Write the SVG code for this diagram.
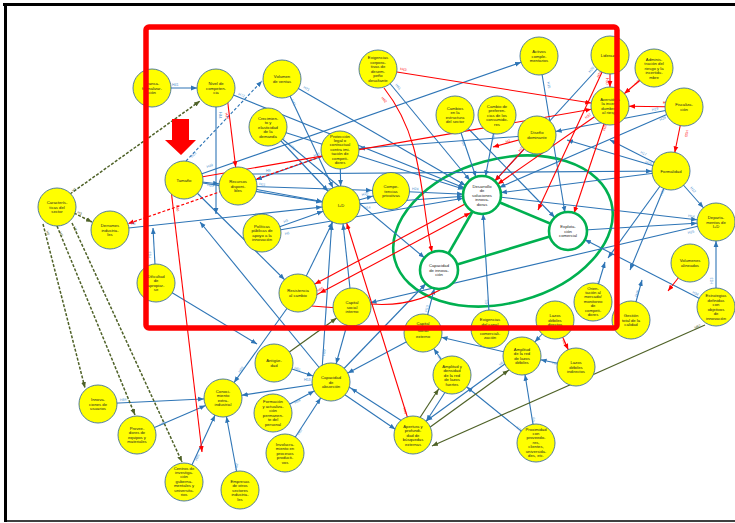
<svg xmlns="http://www.w3.org/2000/svg" width="735" height="523" viewBox="0 0 735 523">
<defs>
<style>
.b{stroke:#2E75B6;stroke-width:1.1;fill:none}
.bd{stroke:#2E75B6;stroke-width:1.1;fill:none;stroke-dasharray:3 2}
.r{stroke:#FF0000;stroke-width:1.1;fill:none}
.rd{stroke:#FF0000;stroke-width:1.2;fill:none;stroke-dasharray:3 2}
.o{stroke:#4F6228;stroke-width:1.2;fill:none}
.od{stroke:#4F6228;stroke-width:1.5;fill:none;stroke-dasharray:3 1.6}
.g{stroke:#00B050;stroke-width:2.6;fill:none}
.n circle{fill:#FFFF00;stroke:#41719C;stroke-width:0.9}
.gn circle{fill:#FFFFFF;stroke:#00B050;stroke-width:2.6}
.n text,.gn text{font-family:"Liberation Sans",Arial,sans-serif;font-size:4.2px;fill:#222;text-anchor:middle}
.lb,.lr,.lo{font-family:"Liberation Sans",Arial,sans-serif;font-size:3.6px}
.lb{fill:#4A8FD0}
.lr{fill:#FF0000}
.lo{fill:#4F6228}
</style>
<marker id="mb" viewBox="0 0 26 6" refX="25" refY="3" markerWidth="26" markerHeight="6" markerUnits="userSpaceOnUse" orient="auto"><path d="M0,0.6 L6,3 L0,5.4z" fill="#2E75B6"/></marker>
<marker id="mr" viewBox="0 0 26 6" refX="25" refY="3" markerWidth="26" markerHeight="6" markerUnits="userSpaceOnUse" orient="auto-start-reverse"><path d="M0,0.6 L6,3 L0,5.4z" fill="#FF0000"/></marker>
<marker id="mo" viewBox="0 0 26 6" refX="25" refY="3" markerWidth="26" markerHeight="6" markerUnits="userSpaceOnUse" orient="auto"><path d="M0,0.6 L6,3 L0,5.4z" fill="#4F6228"/></marker>
<marker id="mbp" viewBox="0 0 6 6" refX="6" refY="3" markerWidth="6" markerHeight="6" markerUnits="userSpaceOnUse" orient="auto"><path d="M0,0.6 L6,3 L0,5.4z" fill="#2E75B6"/></marker>
<marker id="mrp" viewBox="0 0 6 6" refX="6" refY="3" markerWidth="6" markerHeight="6" markerUnits="userSpaceOnUse" orient="auto"><path d="M0,0.6 L6,3 L0,5.4z" fill="#FF0000"/></marker>
<marker id="mop" viewBox="0 0 6 6" refX="6" refY="3" markerWidth="6" markerHeight="6" markerUnits="userSpaceOnUse" orient="auto"><path d="M0,0.6 L6,3 L0,5.4z" fill="#4F6228"/></marker>
</defs>
<rect width="735" height="523" fill="#FFFFFF"/>

<g id="connectors">
<ellipse class="g" cx="503" cy="231" rx="112" ry="72" transform="rotate(-15 503 231)"/>
<!-- blue -->
<line class="b" x1="152" y1="88" x2="216" y2="88" marker-end="url(#mb)"/>
<line class="b" x1="216" y1="88" x2="216" y2="214" marker-end="url(#mbp)"/>
<line class="b" x1="282" y1="79" x2="341" y2="205" marker-end="url(#mb)"/>
<line class="b" x1="282" y1="79" x2="482" y2="195" marker-end="url(#mb)"/>
<line class="b" x1="216" y1="88" x2="482" y2="195" marker-end="url(#mb)"/>
<line class="b" x1="268" y1="127" x2="341" y2="205" marker-end="url(#mb)"/>
<line class="b" x1="268" y1="127" x2="439" y2="270" marker-end="url(#mb)"/>
<line class="b" x1="268" y1="127" x2="482" y2="195" marker-end="url(#mb)"/>
<line class="b" x1="184" y1="180" x2="539" y2="56" marker-end="url(#mb)"/>
<line class="b" x1="340" y1="150" x2="238" y2="186" marker-end="url(#mb)"/>
<line class="b" x1="184" y1="180" x2="238" y2="186" marker-end="url(#mb)"/>
<line class="b" x1="184" y1="180" x2="341" y2="205" marker-end="url(#mb)"/>
<line class="b" x1="238" y1="186" x2="341" y2="205" marker-end="url(#mb)"/>
<line class="b" x1="238" y1="186" x2="391" y2="191" marker-end="url(#mb)"/>
<line class="b" x1="252" y1="174" x2="671" y2="171" marker-end="url(#mb)"/>
<line class="b" x1="110" y1="230" x2="341" y2="205" marker-end="url(#mb)"/>
<line class="b" x1="156" y1="283" x2="153" y2="228" marker-end="url(#mbp)"/>
<line class="b" x1="156" y1="283" x2="257" y2="344" marker-end="url(#mbp)"/>
<line class="b" x1="184" y1="180" x2="298" y2="293" marker-end="url(#mb)"/>
<line class="b" x1="298" y1="293" x2="341" y2="205" marker-end="url(#mb)"/>
<line class="b" x1="352" y1="307" x2="341" y2="205" marker-end="url(#mb)"/>
<line class="b" x1="262" y1="233" x2="341" y2="205" marker-end="url(#mb)"/>
<line class="b" x1="262" y1="233" x2="482" y2="195" marker-end="url(#mb)"/>
<line class="b" x1="341" y1="205" x2="482" y2="195" marker-end="url(#mb)"/>
<line class="b" x1="341" y1="205" x2="391" y2="191" marker-end="url(#mb)"/>
<line class="b" x1="391" y1="191" x2="482" y2="195" marker-end="url(#mb)"/>
<line class="b" x1="340" y1="150" x2="341" y2="205" marker-end="url(#mb)"/>
<line class="b" x1="378" y1="69" x2="482" y2="195" marker-end="url(#mb)"/>
<line class="b" x1="455" y1="115" x2="482" y2="195" marker-end="url(#mb)"/>
<line class="b" x1="497" y1="115" x2="482" y2="195" marker-end="url(#mb)"/>
<line class="b" x1="610" y1="55" x2="482" y2="195" marker-end="url(#mb)"/>
<line class="b" x1="684" y1="107" x2="537" y2="135" marker-end="url(#mb)"/>
<line class="b" x1="684" y1="107" x2="482" y2="195" marker-end="url(#mb)"/>
<line class="b" x1="671" y1="171" x2="482" y2="195" marker-end="url(#mb)"/>
<line class="b" x1="482" y1="195" x2="716" y2="222" marker-end="url(#mb)"/>
<line class="b" x1="568" y1="231" x2="716" y2="222" marker-end="url(#mb)"/>
<line class="b" x1="716" y1="222" x2="352" y2="307" marker-end="url(#mb)"/>
<line class="b" x1="671" y1="171" x2="716" y2="222" marker-end="url(#mb)"/>
<line class="b" x1="716" y1="307" x2="716" y2="222" marker-end="url(#mb)"/>
<line class="b" x1="716" y1="307" x2="568" y2="231" marker-end="url(#mb)"/>
<line class="b" x1="671" y1="171" x2="608" y2="258" marker-end="url(#mbp)"/>
<line class="b" x1="671" y1="171" x2="630" y2="270" marker-end="url(#mbp)"/>
<line class="b" x1="593" y1="302" x2="605" y2="262" marker-end="url(#mbp)"/>
<line class="b" x1="631" y1="320" x2="642" y2="280" marker-end="url(#mbp)"/>
<line class="b" x1="539" y1="56" x2="568" y2="231" marker-end="url(#mb)"/>
<line class="b" x1="455" y1="115" x2="568" y2="231" marker-end="url(#mb)"/>
<line class="b" x1="671" y1="171" x2="610" y2="140" marker-end="url(#mbp)"/>
<line class="b" x1="671" y1="171" x2="567" y2="140" marker-end="url(#mbp)"/>
<line class="b" x1="537" y1="135" x2="340" y2="150" marker-end="url(#mb)"/>
<line class="b" x1="490" y1="329" x2="482" y2="195" marker-end="url(#mb)"/>
<line class="b" x1="423" y1="333" x2="439" y2="270" marker-end="url(#mb)"/>
<line class="b" x1="331" y1="382" x2="439" y2="270" marker-end="url(#mb)"/>
<line class="b" x1="331" y1="382" x2="200" y2="222" marker-end="url(#mbp)"/>
<line class="b" x1="322" y1="370" x2="333" y2="205" marker-end="url(#mb)"/>
<line class="b" x1="298" y1="293" x2="223" y2="398" marker-end="url(#mb)"/>
<line class="b" x1="331" y1="382" x2="223" y2="398" marker-end="url(#mb)"/>
<line class="b" x1="274" y1="363" x2="331" y2="382" marker-end="url(#mb)"/>
<line class="b" x1="273" y1="413" x2="331" y2="382" marker-end="url(#mb)"/>
<line class="b" x1="285" y1="453" x2="331" y2="382" marker-end="url(#mb)"/>
<line class="b" x1="352" y1="307" x2="331" y2="382" marker-end="url(#mb)"/>
<line class="b" x1="423" y1="333" x2="331" y2="382" marker-end="url(#mb)"/>
<line class="b" x1="332" y1="386" x2="411" y2="440" marker-end="url(#mb)"/>
<line class="b" x1="416" y1="430" x2="335" y2="378" marker-end="url(#mb)"/>
<line class="b" x1="98" y1="404" x2="223" y2="398" marker-end="url(#mb)"/>
<line class="b" x1="137" y1="435" x2="223" y2="398" marker-end="url(#mb)"/>
<line class="b" x1="184" y1="482" x2="223" y2="398" marker-end="url(#mb)"/>
<line class="b" x1="240" y1="490" x2="223" y2="398" marker-end="url(#mb)"/>
<line class="b" x1="520" y1="353" x2="411" y2="432" marker-end="url(#mb)"/>
<line class="b" x1="455" y1="377" x2="416" y2="437" marker-end="url(#mb)"/>
<line class="b" x1="536" y1="443" x2="522" y2="356" marker-end="url(#mb)"/>
<line class="b" x1="536" y1="443" x2="452" y2="375" marker-end="url(#mb)"/>
<line class="b" x1="576" y1="367" x2="522" y2="356" marker-end="url(#mb)"/>
<line class="b" x1="555" y1="320" x2="522" y2="356" marker-end="url(#mb)"/>
<line class="b" x1="452" y1="375" x2="423" y2="333" marker-end="url(#mb)"/>
<line class="b" x1="522" y1="356" x2="423" y2="333" marker-end="url(#mb)"/>
<line class="bd" x1="186" y1="161" x2="262" y2="81" marker-end="url(#mbp)"/>
<!-- red -->
<line class="r" x1="184" y1="180" x2="610" y2="106" marker-end="url(#mr)"/>
<line class="r" x1="226" y1="88" x2="238" y2="186" marker-end="url(#mr)"/>
<line class="r" x1="378" y1="69" x2="610" y2="106" marker-end="url(#mr)"/>
<path class="r" d="M384,88 C425,140 420,200 432,252" marker-end="url(#mrp)"/>
<line class="r" x1="537" y1="135" x2="482" y2="195" marker-end="url(#mr)"/>
<line class="r" x1="537" y1="135" x2="493" y2="147" marker-end="url(#mrp)"/>
<line class="r" x1="610" y1="55" x2="610" y2="106" marker-end="url(#mr)"/>
<line class="r" x1="654" y1="68" x2="610" y2="106" marker-end="url(#mr)"/>
<line class="r" x1="684" y1="107" x2="610" y2="106" marker-end="url(#mr)"/>
<line class="r" x1="684" y1="107" x2="671" y2="171" marker-end="url(#mr)"/>
<line class="r" x1="610" y1="106" x2="568" y2="231" marker-end="url(#mr)"/>
<line class="r" x1="610" y1="106" x2="482" y2="195" marker-end="url(#mr)"/>
<line class="r" x1="610" y1="55" x2="538" y2="210" marker-end="url(#mrp)"/>
<line class="r" x1="482" y1="195" x2="298" y2="293" marker-end="url(#mr)"/>
<line class="r" x1="303" y1="302" x2="487" y2="204" marker-start="url(#mr)" marker-end="url(#mr)"/>
<line class="r" x1="352" y1="309" x2="298" y2="305" marker-end="url(#mrp)"/>
<path class="r" d="M370,304 Q420,308 456,279" marker-end="url(#mrp)"/>
<line class="r" x1="413" y1="435" x2="341" y2="205" marker-end="url(#mr)"/>
<line class="r" x1="170" y1="181" x2="202" y2="452" marker-end="url(#mrp)"/>
<line class="r" x1="555" y1="320" x2="576" y2="367" marker-end="url(#mr)"/>
<line class="r" x1="690" y1="263" x2="668" y2="291" marker-end="url(#mrp)"/>
<line class="rd" x1="340" y1="150" x2="110" y2="230" marker-end="url(#mr)"/>
<!-- olive -->
<line class="od" x1="70" y1="194" x2="200" y2="101" marker-end="url(#mop)"/>
<line class="od" x1="74" y1="213" x2="92" y2="222" marker-end="url(#mop)"/>
<line class="od" x1="43" y1="224" x2="85" y2="388" marker-end="url(#mop)"/>
<line class="od" x1="57" y1="226" x2="135" y2="415" marker-end="url(#mop)"/>
<line class="od" x1="72" y1="223" x2="182" y2="462" marker-end="url(#mop)"/>
<line class="o" x1="274" y1="363" x2="352" y2="307" marker-end="url(#mo)"/>
<line class="o" x1="705" y1="325" x2="432" y2="446" marker-end="url(#mop)"/>
<line class="o" x1="410" y1="433" x2="449" y2="373" marker-end="url(#mo)"/>
<line class="o" x1="415" y1="438" x2="524" y2="359" marker-end="url(#mo)"/>
<!-- green -->
<line class="g" x1="482" y1="195" x2="568" y2="231"/>
<line class="g" x1="439" y1="270" x2="482" y2="195"/>
<line class="g" x1="439" y1="270" x2="568" y2="231"/>
<!-- labels -->
<text class="lb" x="172" y="86">H41</text>
<text class="lb" x="219" y="112" transform="rotate(90 219 112)">H44</text>
<text class="lb" x="291" y="100" transform="rotate(65 291 100)">H45</text>
<text class="lb" x="303" y="88" transform="rotate(30 303 88)">H71</text>
<text class="lb" x="238" y="95" transform="rotate(22 238 95)">H72</text>
<text class="lb" x="280" y="137" transform="rotate(47 280 137)">H1</text>
<text class="lb" x="289" y="146" transform="rotate(40 289 146)">H21</text>
<text class="lb" x="207" y="168" transform="rotate(-19 207 168)">H49</text>
<text class="lb" x="314" y="157" transform="rotate(-19 314 157)">H55</text>
<text class="lb" x="207" y="186" transform="rotate(9 207 186)">H50</text>
<text class="lb" x="259" y="185" transform="rotate(10 259 185)">H11</text>
<text class="lb" x="259" y="193" transform="rotate(2 259 193)">H10</text>
<text class="lb" x="266" y="172">H9</text>
<text class="lb" x="131" y="225" transform="rotate(-6 131 225)">H8</text>
<text class="lb" x="151" y="258" transform="rotate(-90 151 258)">H13</text>
<text class="lb" x="284" y="223" transform="rotate(-20 284 223)">H5</text>
<text class="lb" x="285" y="235" transform="rotate(-10 285 235)">H6</text>
<text class="lb" x="364" y="209" transform="rotate(-4 364 209)">H14</text>
<text class="lb" x="362" y="196" transform="rotate(-15 362 196)">H20</text>
<text class="lb" x="412" y="190" transform="rotate(2 412 190)">H24</text>
<text class="lb" x="395" y="85" transform="rotate(50 395 85)">H61</text>
<text class="lb" x="461" y="140" transform="rotate(71 461 140)">H58</text>
<text class="lb" x="494" y="140" transform="rotate(-79 494 140)">H57</text>
<text class="lb" x="590" y="73" transform="rotate(-48 590 73)">H20</text>
<text class="lb" x="652" y="111" transform="rotate(-11 652 111)">H19</text>
<text class="lb" x="660" y="121" transform="rotate(-23 660 121)">H29</text>
<text class="lb" x="640" y="153" transform="rotate(27 640 153)">H17</text>
<text class="lb" x="645" y="163" transform="rotate(17 645 163)">H16</text>
<text class="lb" x="690" y="188" transform="rotate(49 690 188)">H12</text>
<text class="lb" x="713" y="284" transform="rotate(-90 713 284)">H13</text>
<text class="lb" x="692" y="293" transform="rotate(27 692 293)">H34</text>
<text class="lb" x="688" y="217" transform="rotate(6 688 217)">H14</text>
<text class="lb" x="688" y="234" transform="rotate(-13 688 234)">H25</text>
<text class="lb" x="598" y="288" transform="rotate(-73 598 288)">H23</text>
<text class="lb" x="637" y="297" transform="rotate(-70 637 297)">H28</text>
<text class="lb" x="662" y="196" transform="rotate(-68 662 196)">H32</text>
<text class="lb" x="547" y="82" transform="rotate(80 547 82)">H15</text>
<text class="lb" x="488" y="306" transform="rotate(-90 488 306)">H55</text>
<text class="lb" x="427" y="312" transform="rotate(-75 427 312)">H13</text>
<text class="lb" x="120" y="401" transform="rotate(-3 120 401)">H84</text>
<text class="lb" x="160" y="426" transform="rotate(-23 160 426)">H85</text>
<text class="lb" x="197" y="461" transform="rotate(-65 197 461)">H86</text>
<text class="lb" x="237" y="470" transform="rotate(-80 237 470)">H82</text>
<text class="lb" x="240" y="373" transform="rotate(-55 240 373)">H83</text>
<text class="lb" x="304" y="381">H53</text>
<text class="lb" x="294" y="369" transform="rotate(18 294 369)">H51</text>
<text class="lb" x="295" y="404" transform="rotate(-28 295 404)">H58</text>
<text class="lb" x="299" y="435" transform="rotate(-57 299 435)">H57</text>
<text class="lb" x="325" y="356" transform="rotate(-85 325 356)">H59</text>
<text class="lb" x="500" y="366" transform="rotate(-36 500 366)">H67</text>
<text class="lb" x="447" y="394" transform="rotate(-57 447 394)">H68</text>
<text class="lb" x="534" y="424" transform="rotate(-81 534 424)">H70</text>
<text class="lb" x="516" y="428" transform="rotate(39 516 428)">H71</text>
<text class="lb" x="552" y="364" transform="rotate(11 552 364)">H69</text>
<text class="lb" x="437" y="356" transform="rotate(55 437 356)">H64</text>
<text class="lb" x="192" y="158" transform="rotate(-46 192 158)">H22</text>
<text class="lr" x="225" y="113" transform="rotate(77 225 113)">H42</text>
<text class="lr" x="400" y="70" transform="rotate(9 400 70)">H43</text>
<text class="lr" x="381" y="98" transform="rotate(50 381 98)">H62</text>
<text class="lr" x="520" y="152" transform="rotate(-48 520 152)">H27</text>
<text class="lr" x="506" y="143" transform="rotate(-16 506 143)">H2</text>
<text class="lr" x="606" y="78" transform="rotate(90 606 78)">H30</text>
<text class="lr" x="636" y="85" transform="rotate(-41 636 85)">H38</text>
<text class="lr" x="663" y="104">H18</text>
<text class="lr" x="686" y="130" transform="rotate(100 686 130)">H33</text>
<text class="lr" x="605" y="131" transform="rotate(-71 605 131)">H26</text>
<text class="lr" x="586" y="119" transform="rotate(-35 586 119)">H37</text>
<text class="lr" x="599" y="78" transform="rotate(-65 599 78)">H31</text>
<text class="lr" x="403" y="408" transform="rotate(73 403 408)">H40</text>
<text class="lr" x="176" y="205" transform="rotate(83 176 205)">H36</text>
<text class="lr" x="562" y="340" transform="rotate(66 562 340)">H66</text>
<text class="lr" x="680" y="277" transform="rotate(-52 680 277)">H35</text>
<text class="lr" x="318" y="292" transform="rotate(-28 318 292)">H65</text>
<text class="lo" x="73" y="192" transform="rotate(-37 73 192)">H1</text>
<text class="lo" x="77" y="213" transform="rotate(28 77 213)">H3</text>
<text class="lo" x="46" y="231" transform="rotate(75 46 231)">H6</text>
<text class="lo" x="59" y="232" transform="rotate(70 59 232)">H7</text>
<text class="lo" x="73" y="227" transform="rotate(65 73 227)">H8</text>
<text class="lo" x="695" y="329" transform="rotate(-24 695 329)">H87</text>
</g>

<g id="nodes">
<g id="n-lan" class="n"><circle cx="152" cy="88" r="19"/><text><tspan x="152" y="85">Transa-</tspan><tspan x="152" dy="4.5">formalizar-</tspan><tspan x="152" dy="4.5">ción</tspan></text></g>
<g id="n-niv" class="n"><circle cx="216" cy="88" r="19"/><text><tspan x="216" y="85">Nivel de</tspan><tspan x="216" dy="4.5">competen-</tspan><tspan x="216" dy="4.5">cia</tspan></text></g>
<g id="n-vol" class="n"><circle cx="282" cy="79" r="19"/><text><tspan x="282" y="78.25">Volumen</tspan><tspan x="282" dy="4.5">de ventas</tspan></text></g>
<g id="n-cre" class="n"><circle cx="268" cy="127" r="19"/><text><tspan x="268" y="119.5">Crecimien-</tspan><tspan x="268" dy="4.5">to y</tspan><tspan x="268" dy="4.5">elasticidad</tspan><tspan x="268" dy="4.5">de la</tspan><tspan x="268" dy="4.5">demanda</tspan></text></g>
<g id="n-pro" class="n"><circle cx="340" cy="150" r="19"/><text><tspan x="340" y="137.5">Protección</tspan><tspan x="340" dy="4.4">legal o</tspan><tspan x="340" dy="4.4">contractual</tspan><tspan x="340" dy="4.4">contra imi-</tspan><tspan x="340" dy="4.4">tación de</tspan><tspan x="340" dy="4.4">competi-</tspan><tspan x="340" dy="4.4">dores</tspan></text></g>
<g id="n-exc" class="n"><circle cx="378" cy="69" r="19"/><text><tspan x="378" y="59.25">Exigencias</tspan><tspan x="378" dy="4.5">corpora-</tspan><tspan x="378" dy="4.5">tivas de</tspan><tspan x="378" dy="4.5">desem-</tspan><tspan x="378" dy="4.5">peño</tspan><tspan x="378" dy="4.5">desafiante</tspan></text></g>
<g id="n-act" class="n"><circle cx="539" cy="56" r="19"/><text><tspan x="539" y="53">Activos</tspan><tspan x="539" dy="4.5">comple-</tspan><tspan x="539" dy="4.5">mentarios</tspan></text></g>
<g id="n-cam" class="n"><circle cx="455" cy="115" r="19"/><text><tspan x="455" y="109.75">Cambios</tspan><tspan x="455" dy="4.5">en la</tspan><tspan x="455" dy="4.5">estructura</tspan><tspan x="455" dy="4.5">del sector</tspan></text></g>
<g id="n-pre" class="n"><circle cx="497" cy="115" r="19"/><text><tspan x="497" y="107.5">Cambio de</tspan><tspan x="497" dy="4.5">preferen-</tspan><tspan x="497" dy="4.5">cias de los</tspan><tspan x="497" dy="4.5">consumido-</tspan><tspan x="497" dy="4.5">res</tspan></text></g>
<g id="n-dis" class="n"><circle cx="537" cy="135" r="19"/><text><tspan x="537" y="134.25">Diseño</tspan><tspan x="537" dy="4.5">dominante</tspan></text></g>
<g id="n-lid" class="n"><circle cx="610" cy="55" r="19"/><text><tspan x="610" y="56.5">Liderazgo</tspan></text></g>
<g id="n-adm" class="n"><circle cx="654" cy="68" r="19"/><text><tspan x="654" y="60.5">Adminis-</tspan><tspan x="654" dy="4.5">tración del</tspan><tspan x="654" dy="4.5">riesgo y la</tspan><tspan x="654" dy="4.5">incertidu-</tspan><tspan x="654" dy="4.5">mbre</tspan></text></g>
<g id="n-ave" class="n"><circle cx="610" cy="106" r="19"/><text><tspan x="610" y="100.75">Aversión a</tspan><tspan x="610" dy="4.5">la incerti-</tspan><tspan x="610" dy="4.5">dumbre y</tspan><tspan x="610" dy="4.5">al riesgo</tspan></text></g>
<g id="n-fis" class="n"><circle cx="684" cy="107" r="19"/><text><tspan x="684" y="106.25">Fiscaliza-</tspan><tspan x="684" dy="4.5">ción</tspan></text></g>
<g id="n-for" class="n"><circle cx="671" cy="171" r="19"/><text><tspan x="671" y="172.5">Formalidad</tspan></text></g>
<g id="n-dep" class="n"><circle cx="716" cy="222" r="19"/><text><tspan x="716" y="219">Departa-</tspan><tspan x="716" dy="4.5">mentos de</tspan><tspan x="716" dy="4.5">I+D</tspan></text></g>
<g id="n-vln" class="n"><circle cx="690" cy="263" r="19"/><text><tspan x="690" y="262.25">Volumenes</tspan><tspan x="690" dy="4.5">alineados</tspan></text></g>
<g id="n-est" class="n"><circle cx="716" cy="307" r="19"/><text><tspan x="716" y="297.25">Estrategias</tspan><tspan x="716" dy="4.5">definidas</tspan><tspan x="716" dy="4.5">con</tspan><tspan x="716" dy="4.5">objetivos</tspan><tspan x="716" dy="4.5">de</tspan><tspan x="716" dy="4.5">innovación</tspan></text></g>
<g id="n-ges" class="n"><circle cx="631" cy="320" r="19"/><text><tspan x="631" y="317">Gestión</tspan><tspan x="631" dy="4.5">total de la</tspan><tspan x="631" dy="4.5">calidad</tspan></text></g>
<g id="n-ori" class="n"><circle cx="593" cy="302" r="19"/><text><tspan x="593" y="289.5">Orien-</tspan><tspan x="593" dy="4.4">tación al</tspan><tspan x="593" dy="4.4">mercado/</tspan><tspan x="593" dy="4.4">monitoreo</tspan><tspan x="593" dy="4.4">de</tspan><tspan x="593" dy="4.4">competi-</tspan><tspan x="593" dy="4.4">dores</tspan></text></g>
<g id="n-ldd" class="n"><circle cx="555" cy="320" r="19"/><text><tspan x="555" y="317">Lazos</tspan><tspan x="555" dy="4.5">débiles</tspan><tspan x="555" dy="4.5">directos</tspan></text></g>
<g id="n-exp" class="gn"><circle cx="568" cy="231" r="19"/><text><tspan x="568" y="228">Explota-</tspan><tspan x="568" dy="4.5">ción</tspan><tspan x="568" dy="4.5">comercial</tspan></text></g>
<g id="n-des" class="gn"><circle cx="482" cy="195" r="19"/><text><tspan x="482" y="187.5">Desarrollo</tspan><tspan x="482" dy="4.5">de</tspan><tspan x="482" dy="4.5">soluciones</tspan><tspan x="482" dy="4.5">innova-</tspan><tspan x="482" dy="4.5">doras</tspan></text></g>
<g id="n-cin" class="gn"><circle cx="439" cy="270" r="19"/><text><tspan x="439" y="267">Capacidad</tspan><tspan x="439" dy="4.5">de innova-</tspan><tspan x="439" dy="4.5">ción</tspan></text></g>
<g id="n-imd" class="n"><circle cx="341" cy="205" r="19"/><text><tspan x="341" y="206.5">I+D</tspan></text></g>
<g id="n-com" class="n"><circle cx="391" cy="191" r="18.5"/><text><tspan x="391" y="188">Compe-</tspan><tspan x="391" dy="4.5">tencias</tspan><tspan x="391" dy="4.5">privativas</tspan></text></g>
<g id="n-rec" class="n"><circle cx="238" cy="186" r="19"/><text><tspan x="238" y="183">Recursos</tspan><tspan x="238" dy="4.5">disponi-</tspan><tspan x="238" dy="4.5">bles</tspan></text></g>
<g id="n-tam" class="n"><circle cx="184" cy="180" r="19"/><text><tspan x="184" y="181.5">Tamaño</tspan></text></g>
<g id="n-pol" class="n"><circle cx="262" cy="233" r="19"/><text><tspan x="262" y="227.75">Políticas</tspan><tspan x="262" dy="4.5">públicas de</tspan><tspan x="262" dy="4.5">apoyo a la</tspan><tspan x="262" dy="4.5">innovación</tspan></text></g>
<g id="n-res" class="n"><circle cx="298" cy="293" r="19"/><text><tspan x="298" y="292.25">Resistencia</tspan><tspan x="298" dy="4.5">al cambio</tspan></text></g>
<g id="n-csi" class="n"><circle cx="352" cy="307" r="19"/><text><tspan x="352" y="304">Capital</tspan><tspan x="352" dy="4.5">social</tspan><tspan x="352" dy="4.5">interno</tspan></text></g>
<g id="n-car" class="n"><circle cx="57" cy="207" r="19"/><text><tspan x="57" y="204">Caracterís-</tspan><tspan x="57" dy="4.5">ticas del</tspan><tspan x="57" dy="4.5">sector</tspan></text></g>
<g id="n-der" class="n"><circle cx="110" cy="230" r="19"/><text><tspan x="110" y="227">Derrames</tspan><tspan x="110" dy="4.5">industria-</tspan><tspan x="110" dy="4.5">les</tspan></text></g>
<g id="n-dif" class="n"><circle cx="156" cy="283" r="19"/><text><tspan x="156" y="277.75">Dificultad</tspan><tspan x="156" dy="4.5">de</tspan><tspan x="156" dy="4.5">apropiar-</tspan><tspan x="156" dy="4.5">se</tspan></text></g>
<g id="n-inu" class="n"><circle cx="98" cy="404" r="19"/><text><tspan x="98" y="401">Innova-</tspan><tspan x="98" dy="4.5">ciones de</tspan><tspan x="98" dy="4.5">usuarios</tspan></text></g>
<g id="n-prv" class="n"><circle cx="137" cy="435" r="19"/><text><tspan x="137" y="429.75">Provee-</tspan><tspan x="137" dy="4.5">dores de</tspan><tspan x="137" dy="4.5">equipos y</tspan><tspan x="137" dy="4.5">materiales</tspan></text></g>
<g id="n-cen" class="n"><circle cx="184" cy="482" r="19"/><text><tspan x="184" y="469.5">Centros de</tspan><tspan x="184" dy="4.4">investiga-</tspan><tspan x="184" dy="4.4">ción</tspan><tspan x="184" dy="4.4">guberna-</tspan><tspan x="184" dy="4.4">mentales y</tspan><tspan x="184" dy="4.4">universita-</tspan><tspan x="184" dy="4.4">rios</tspan></text></g>
<g id="n-con" class="n"><circle cx="223" cy="398" r="19"/><text><tspan x="223" y="392.75">Conoci-</tspan><tspan x="223" dy="4.5">miento</tspan><tspan x="223" dy="4.5">extra-</tspan><tspan x="223" dy="4.5">industrial</tspan></text></g>
<g id="n-ant" class="n"><circle cx="274" cy="363" r="19"/><text><tspan x="274" y="362.25">Antigüe-</tspan><tspan x="274" dy="4.5">dad</tspan></text></g>
<g id="n-fap" class="n"><circle cx="273" cy="413" r="19"/><text><tspan x="273" y="403.25">Formación</tspan><tspan x="273" dy="4.5">y actualiza-</tspan><tspan x="273" dy="4.5">ción</tspan><tspan x="273" dy="4.5">permanen-</tspan><tspan x="273" dy="4.5">te del</tspan><tspan x="273" dy="4.5">personal</tspan></text></g>
<g id="n-inv" class="n"><circle cx="285" cy="453" r="19"/><text><tspan x="285" y="445.5">Involucra-</tspan><tspan x="285" dy="4.5">miento en</tspan><tspan x="285" dy="4.5">procesos</tspan><tspan x="285" dy="4.5">producti-</tspan><tspan x="285" dy="4.5">vos</tspan></text></g>
<g id="n-emp" class="n"><circle cx="240" cy="490" r="19"/><text><tspan x="240" y="482.5">Empresas</tspan><tspan x="240" dy="4.5">de otros</tspan><tspan x="240" dy="4.5">sectores</tspan><tspan x="240" dy="4.5">industria-</tspan><tspan x="240" dy="4.5">les</tspan></text></g>
<g id="n-cab" class="n"><circle cx="331" cy="382" r="19"/><text><tspan x="331" y="379">Capacidad</tspan><tspan x="331" dy="4.5">de</tspan><tspan x="331" dy="4.5">absorción</tspan></text></g>
<g id="n-cse" class="n"><circle cx="423" cy="333" r="19"/><text><tspan x="423" y="325">Capital</tspan><tspan x="423" dy="7">social</tspan><tspan x="423" dy="6">externo</tspan></text></g>
<g id="n-exg" class="n"><circle cx="490" cy="329" r="19"/><text><tspan x="490" y="321">Exigencias</tspan><tspan x="490" dy="4.5">del canal</tspan><tspan x="490" dy="4.5">de</tspan><tspan x="490" dy="4.5">comerciali-</tspan><tspan x="490" dy="4.5">zación</tspan></text></g>
<g id="n-ald" class="n"><circle cx="522" cy="356" r="19"/><text><tspan x="522" y="350.75">Amplitud</tspan><tspan x="522" dy="4.5">de la red</tspan><tspan x="522" dy="4.5">de lazos</tspan><tspan x="522" dy="4.5">débiles</tspan></text></g>
<g id="n-ldi" class="n"><circle cx="576" cy="367" r="19"/><text><tspan x="576" y="364">Lazos</tspan><tspan x="576" dy="4.5">débiles</tspan><tspan x="576" dy="4.5">indirectos</tspan></text></g>
<g id="n-alf" class="n"><circle cx="452" cy="375" r="19"/><text><tspan x="452" y="367.5">Amplitud y</tspan><tspan x="452" dy="4.5">densidad</tspan><tspan x="452" dy="4.5">de la red</tspan><tspan x="452" dy="4.5">de lazos</tspan><tspan x="452" dy="4.5">fuertes</tspan></text></g>
<g id="n-ape" class="n"><circle cx="413" cy="435" r="19"/><text><tspan x="413" y="427.5">Apertura y</tspan><tspan x="413" dy="4.5">profundi-</tspan><tspan x="413" dy="4.5">dad de</tspan><tspan x="413" dy="4.5">búsquedas</tspan><tspan x="413" dy="4.5">externas</tspan></text></g>
<g id="n-prx" class="n"><circle cx="536" cy="443" r="19"/><text><tspan x="536" y="430.5">Proximidad</tspan><tspan x="536" dy="4.4">con</tspan><tspan x="536" dy="4.4">proveedo-</tspan><tspan x="536" dy="4.4">res,</tspan><tspan x="536" dy="4.4">clientes,</tspan><tspan x="536" dy="4.4">universida-</tspan><tspan x="536" dy="4.4">des, etc.</tspan></text></g>
</g>

<g id="overlay">
<rect x="146" y="27" width="471" height="301" rx="3" fill="none" stroke="#FF0000" stroke-width="5.5"/>
<polygon points="172,119 189,119 189,140 196,140 181,155 165,140 172,140" fill="#FF0000"/>
<line x1="3" y1="4.5" x2="735" y2="4.5" stroke="#000" stroke-width="3"/>
<line x1="5.5" y1="3" x2="5.5" y2="522" stroke="#000" stroke-width="3"/>
<line x1="4" y1="521" x2="735" y2="521" stroke="#000" stroke-width="1.6"/>
</g>
</svg>
